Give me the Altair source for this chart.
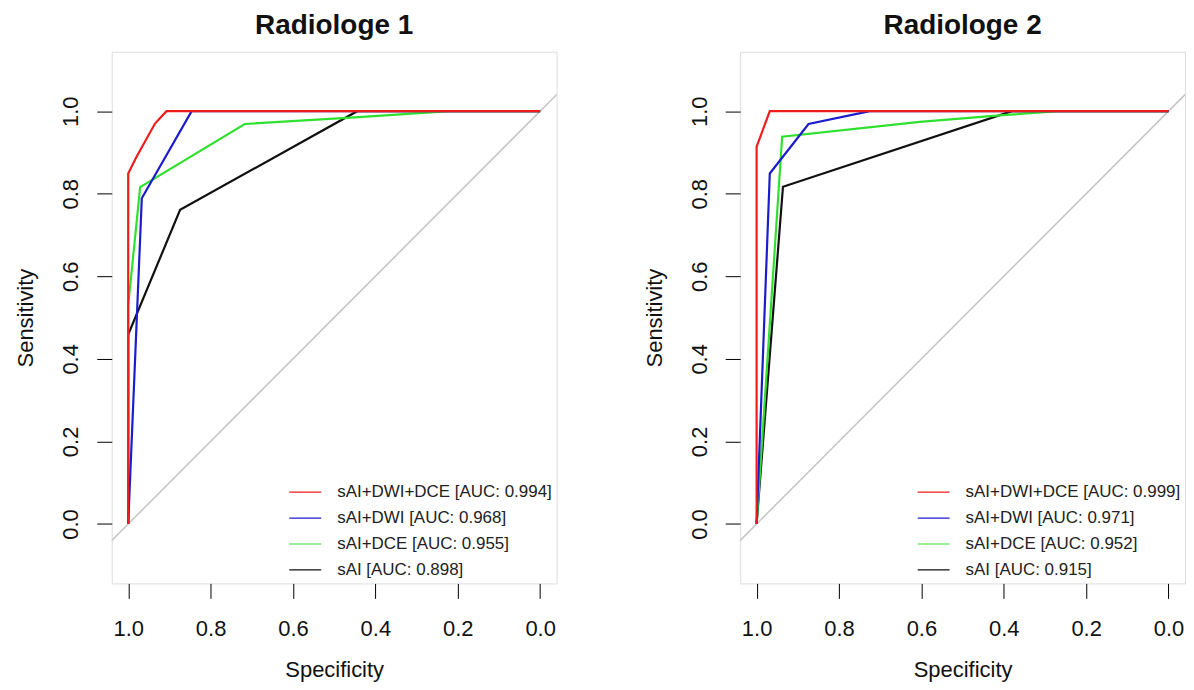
import altair as alt
import pandas as pd

FONT = "Liberation Sans"

# series (legend order)
series_names = ["sAI+DWI+DCE", "sAI+DWI", "sAI+DCE", "sAI"]
series_colors = ["#ee1c1c", "#1c1ccc", "#2fe02f", "#111111"]

# AUC values per reader
r1_auc = [0.994, 0.968, 0.955, 0.898]
r2_auc = [0.999, 0.971, 0.952, 0.915]

# Radiologe 1 ROC points (specificity, sensitivity)
r1_red_spec = [1.0, 1.0, 0.981, 0.935, 0.907, 0.0]
r1_red_sens = [0.0, 0.849, 0.887, 0.970, 1.0, 1.0]
r1_blue_spec = [1.0, 0.967, 0.846, 0.0]
r1_blue_sens = [0.0, 0.789, 1.0, 1.0]
r1_green_spec = [1.0, 1.0, 0.971, 0.717, 0.45, 0.22, 0.0]
r1_green_sens = [0.0, 0.53, 0.816, 0.969, 0.985, 1.0, 1.0]
r1_black_spec = [1.0, 1.0, 0.874, 0.444, 0.0]
r1_black_sens = [0.0, 0.459, 0.761, 1.0, 1.0]

# Radiologe 2 ROC points
r2_red_spec = [1.0, 1.0, 0.968, 0.0]
r2_red_sens = [0.0, 0.914, 1.0, 1.0]
r2_blue_spec = [1.0, 0.968, 0.874, 0.725, 0.0]
r2_blue_sens = [0.0, 0.849, 0.969, 1.0, 1.0]
r2_green_spec = [1.0, 0.938, 0.604, 0.41, 0.266, 0.0]
r2_green_sens = [0.0, 0.938, 0.974, 0.99, 1.0, 1.0]
r2_black_spec = [1.0, 0.936, 0.38, 0.0]
r2_black_sens = [0.0, 0.817, 1.0, 1.0]

# chance diagonal (sens = 1 - spec), clipped to the plot box
diag_spec = [1.2, -0.2]
diag_sens = [-0.2, 1.2]

tick_values = [0.0, 0.2, 0.4, 0.6, 0.8, 1.0]


def panel(title, specs, senss, aucs):
    labels = [f"{n} [AUC: {a:.3f}]" for n, a in zip(series_names, aucs)]
    rows = []
    for lab, sp, se in zip(labels, specs, senss):
        for i, (a, b) in enumerate(zip(sp, se)):
            rows.append({"series": lab, "spec": a, "sens": b, "i": i})
    df = pd.DataFrame(rows)
    diag_df = pd.DataFrame({"spec": diag_spec, "sens": diag_sens})

    x = alt.X(
        "spec:Q",
        title="Specificity",
        scale=alt.Scale(domain=[-0.04, 1.04], reverse=True, nice=False, zero=False),
        axis=alt.Axis(
            values=tick_values, format=".1f", grid=False, domain=False,
            tickSize=15, tickColor="black", labelPadding=37,
            labelBaseline="alphabetic", labelFontSize=22, labelFont=FONT,
            labelColor="#111", titleFontSize=22, titleFont=FONT,
            titleFontWeight="normal", titleColor="#111", titleY=93,
            titleBaseline="alphabetic",
        ),
    )
    y = alt.Y(
        "sens:Q",
        title="Sensitivity",
        scale=alt.Scale(domain=[-0.144, 1.144], nice=False, zero=False),
        axis=alt.Axis(
            values=tick_values, format=".1f", grid=False, domain=False,
            tickSize=15, tickColor="black", labelPadding=19, labelAngle=270,
            labelAlign="center", labelBaseline="alphabetic", labelFontSize=22,
            labelFont=FONT, labelColor="#111", titleFontSize=22, titleFont=FONT,
            titleFontWeight="normal", titleColor="#111", titleX=-86,
            titleBaseline="middle",
        ),
    )
    color = alt.Color(
        "series:N",
        scale=alt.Scale(domain=labels, range=series_colors),
        legend=alt.Legend(
            orient="none", legendX=177, legendY=433, title=None,
            symbolType="stroke", symbolSize=1024, symbolStrokeWidth=1.2,
            labelFontSize=17, labelFont=FONT, labelColor="#222",
            labelOffset=15, clipHeight=17, rowPadding=8, padding=0,
            labelLimit=400,
        ),
    )
    diag = alt.Chart(diag_df).mark_line(
        color="#c4c4c4", strokeWidth=1.5, clip=True
    ).encode(x=x, y=y)
    layers = [diag]
    for lab in reversed(labels):
        layers.append(
            alt.Chart(df)
            .transform_filter(alt.datum.series == lab)
            .mark_line(strokeWidth=2.2, clip=True)
            .encode(x=x, y=y, color=color, order="i:Q")
        )
    return alt.layer(*layers).properties(
        width=446,
        height=533,
        title=alt.TitleParams(
            title, fontSize=28, fontWeight="bold", font=FONT, anchor="middle",
            frame="group", offset=12, color="#111",
        ),
    )


p1 = panel(
    "Radiologe 1",
    [r1_red_spec, r1_blue_spec, r1_green_spec, r1_black_spec],
    [r1_red_sens, r1_blue_sens, r1_green_sens, r1_black_sens],
    r1_auc,
)
p2 = panel(
    "Radiologe 2",
    [r2_red_spec, r2_blue_spec, r2_green_spec, r2_black_spec],
    [r2_red_sens, r2_blue_sens, r2_green_sens, r2_black_sens],
    r2_auc,
)

chart = (
    alt.hconcat(p1, p2, spacing=85)
    .resolve_scale(color="independent")
    .properties(padding={"left": 6, "top": 2, "right": 0, "bottom": 0})
    .configure_view(stroke="black", strokeWidth=1)
    .configure(background="white")
)

chart.save("out.html", embed_options={"renderer": "svg", "actions": False})
